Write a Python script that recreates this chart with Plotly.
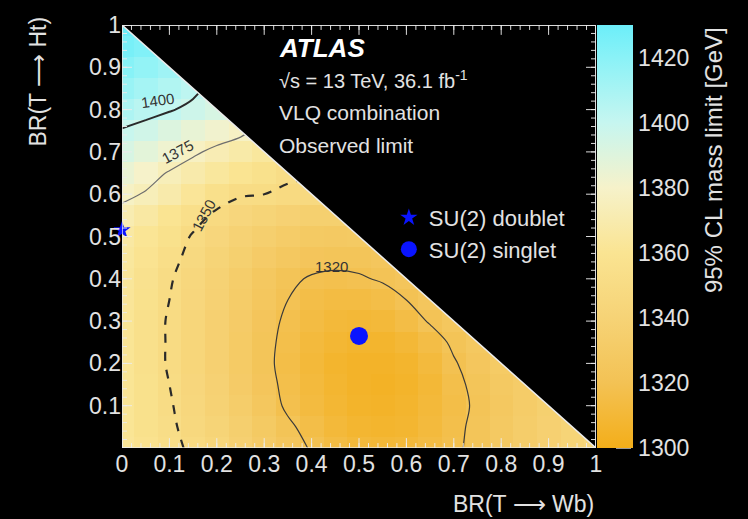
import plotly.graph_objects as go

# Branching-ratio grid (BR(T->Wb) on x, BR(T->Ht) on y), step 0.05
br_grid = [0.0, 0.05, 0.1, 0.15, 0.2, 0.25, 0.3, 0.35, 0.4, 0.45, 0.5,
           0.55, 0.6, 0.65, 0.7, 0.75, 0.8, 0.85, 0.9, 0.95, 1.0]

# Observed 95% CL lower mass limit [GeV], one list per BR(T->Ht) row,
# running over BR(T->Wb) until BR(Wb) + BR(Ht) = 1
limit_ht_000 = [1362, 1358, 1353, 1348, 1343, 1337, 1331, 1325, 1319, 1314, 1311,
                1310, 1311, 1314, 1318, 1323, 1328, 1333, 1337, 1341, 1345]
limit_ht_005 = [1361, 1356, 1352, 1346, 1341, 1335, 1329, 1322, 1316, 1311, 1308,
                1307, 1308, 1312, 1317, 1323, 1328, 1333, 1337, 1341]
limit_ht_010 = [1361, 1356, 1351, 1345, 1339, 1333, 1326, 1318, 1313, 1309, 1306,
                1305, 1307, 1311, 1316, 1322, 1327, 1332, 1336]
limit_ht_015 = [1361, 1356, 1350, 1344, 1338, 1331, 1324, 1317, 1312, 1308, 1305,
                1304, 1306, 1310, 1317, 1323, 1328, 1332]
limit_ht_020 = [1361, 1355, 1349, 1343, 1337, 1330, 1323, 1316, 1311, 1307, 1305,
                1305, 1307, 1312, 1319, 1325, 1330]
limit_ht_025 = [1361, 1355, 1349, 1343, 1337, 1330, 1323, 1317, 1312, 1309, 1307,
                1307, 1310, 1315, 1322, 1327]
limit_ht_030 = [1361, 1355, 1349, 1343, 1337, 1331, 1324, 1318, 1314, 1311, 1310,
                1311, 1315, 1321, 1326]
limit_ht_035 = [1362, 1356, 1350, 1344, 1338, 1332, 1326, 1320, 1316, 1314, 1314,
                1316, 1320, 1325]
limit_ht_040 = [1363, 1357, 1351, 1345, 1339, 1333, 1327, 1322, 1319, 1318, 1319,
                1321, 1324]
limit_ht_045 = [1364, 1359, 1353, 1347, 1341, 1336, 1331, 1327, 1324, 1323, 1323, 1325]
limit_ht_050 = [1366, 1361, 1356, 1349, 1344, 1339, 1335, 1332, 1329, 1328, 1329]
limit_ht_055 = [1371, 1366, 1360, 1354, 1348, 1344, 1341, 1338, 1336, 1336]
limit_ht_060 = [1378, 1374, 1369, 1362, 1355, 1351, 1350, 1348, 1347]
limit_ht_065 = [1385, 1380, 1374, 1369, 1364, 1360, 1356, 1352]
limit_ht_070 = [1393, 1388, 1383, 1377, 1372, 1368, 1364]
limit_ht_075 = [1399, 1396, 1391, 1386, 1382, 1378]
limit_ht_080 = [1408, 1404, 1401, 1397, 1393]
limit_ht_085 = [1415, 1411, 1407, 1403]
limit_ht_090 = [1421, 1417, 1413]
limit_ht_095 = [1426, 1423]
limit_ht_100 = [1430]

rows = [limit_ht_000, limit_ht_005, limit_ht_010, limit_ht_015, limit_ht_020,
        limit_ht_025, limit_ht_030, limit_ht_035, limit_ht_040, limit_ht_045,
        limit_ht_050, limit_ht_055, limit_ht_060, limit_ht_065, limit_ht_070,
        limit_ht_075, limit_ht_080, limit_ht_085, limit_ht_090, limit_ht_095,
        limit_ht_100]
z = [r + [None] * (len(br_grid) - len(r)) for r in rows]

# Contour levels, their line styles and where each level is labelled
contour_levels = [1320, 1350, 1375, 1400]
contour_styles = {
    1320: dict(color="#3a3a3a", width=1.2, dash="solid"),
    1350: dict(color="#2a2a2a", width=2.2, dash="dash"),
    1375: dict(color="#6e6e6e", width=1.2, dash="solid"),
    1400: dict(color="#2a2a2a", width=2.0, dash="solid"),
}
label_wb = {1320: 0.443, 1350: 0.172, 1375: 0.118, 1400: 0.074}
label_ht = {1320: 0.43, 1350: 0.55, 1375: 0.70, 1400: 0.822}
label_angle = {1320: 0, 1350: -62, 1375: -28, 1400: -8}

# Benchmark models
model_names = ["SU(2) doublet", "SU(2) singlet"]
model_wb = [0.0, 0.5]
model_ht = [0.515, 0.265]
model_symbols = ["star", "circle"]
model_sizes = [13, 18]

# Unphysical region BR(Wb) + BR(Ht) > 1
mask_x = [0.0, 1.0, 1.0, 0.0]
mask_y = [1.0, 0.0, 1.0, 1.0]

x_ticks = [0, 0.1, 0.2, 0.3, 0.4, 0.5, 0.6, 0.7, 0.8, 0.9, 1]
x_ticktext = ["0", "0.1", "0.2", "0.3", "0.4", "0.5", "0.6", "0.7", "0.8", "0.9", "1"]
y_ticks = [0.1, 0.2, 0.3, 0.4, 0.5, 0.6, 0.7, 0.8, 0.9, 1]
y_ticktext = ["0.1", "0.2", "0.3", "0.4", "0.5", "0.6", "0.7", "0.8", "0.9", "1"]
minor_ticks = [round(0.02 * i, 2) for i in range(51)]
cbar_ticks = [1300, 1320, 1340, 1360, 1380, 1400, 1420]
Z_MIN, Z_MAX = 1300, 1430

FONT = "Liberation Sans, Arial, Helvetica, sans-serif"
TXT = "#e2e2e2"
TICK = "rgba(236,236,236,0.92)"

# Figure geometry (pixels) used to size the ROOT-style inside tick marks
W, H = 748, 519
M_L, M_R, M_T, M_B = 122, 152, 20, 71
PLOT_W, PLOT_H = W - M_L - M_R, H - M_T - M_B
MAJOR_PX, MINOR_PX = 10, 5

colorscale = [
    [0.0, "rgb(243,174,26)"],
    [0.1538, "rgb(243,194,84)"],
    [0.3077, "rgb(246,211,118)"],
    [0.4615, "rgb(250,228,146)"],
    [0.6154, "rgb(246,242,202)"],
    [0.7692, "rgb(198,246,240)"],
    [0.9231, "rgb(138,242,247)"],
    [1.0, "rgb(108,238,249)"],
]

fig = go.Figure()

fig.add_trace(go.Heatmap(
    x=br_grid, y=br_grid, z=z, zmin=Z_MIN, zmax=Z_MAX,
    colorscale=colorscale, zsmooth=False,
    colorbar=dict(
        x=1.002, xanchor="left", xpad=0, y=0.5, yanchor="middle", ypad=0,
        len=1, lenmode="fraction", thickness=36, outlinewidth=0,
        tickvals=cbar_ticks, ticks="",
        tickfont=dict(family=FONT, size=23, color=TXT),
    ),
))

for lvl in contour_levels:
    st = contour_styles[lvl]
    fig.add_trace(go.Contour(
        x=br_grid, y=br_grid, z=z, connectgaps=True, showscale=False,
        contours=dict(start=lvl, end=lvl, size=1, coloring="none", showlabels=False),
        line=dict(color=st["color"], width=st["width"], dash=st["dash"]),
        showlegend=False,
    ))

fig.add_trace(go.Scatter(
    x=mask_x, y=mask_y, mode="lines", fill="toself", fillcolor="black",
    line=dict(color="#ececec", width=1.5), showlegend=False,
))

for i, name in enumerate(model_names):
    fig.add_trace(go.Scatter(
        x=[model_wb[i]], y=[model_ht[i]], mode="markers", name=name,
        cliponaxis=False,
        marker=dict(symbol=model_symbols[i], size=model_sizes[i], color="#0a14ff"),
    ))

for lvl in contour_levels:
    fig.add_annotation(text=str(lvl), x=label_wb[lvl], y=label_ht[lvl], xref="x", yref="y",
                       textangle=label_angle[lvl], showarrow=False,
                       font=dict(family=FONT, size=15, color="#333333"))

# Frame and inside tick marks on all four sides, plus colour-bar ticks
shapes = [dict(type="rect", xref="x", yref="y", x0=0, x1=1, y0=0, y1=1,
               line=dict(color=TICK, width=1.5), layer="above")]


def tick_set(vals, px):
    lx = px / PLOT_W
    ly = px / PLOT_H
    out = []
    for t in vals:
        for y0, y1 in ((0, ly), (1, 1 - ly)):
            out.append(dict(type="line", xref="x", yref="y", x0=t, x1=t, y0=y0, y1=y1,
                            line=dict(color=TICK, width=1), layer="above"))
        for x0, x1 in ((0, lx), (1, 1 - lx)):
            out.append(dict(type="line", xref="x", yref="y", x0=x0, x1=x1, y0=t, y1=t,
                            line=dict(color=TICK, width=1), layer="above"))
    return out


shapes += tick_set(minor_ticks, MINOR_PX)
shapes += tick_set(x_ticks, MAJOR_PX)

cb_x0 = (M_L + PLOT_W + 20 - M_L) / PLOT_W
cb_x1 = (M_L + PLOT_W + 35 - M_L) / PLOT_W
for v in cbar_ticks:
    yv = (v - Z_MIN) / (Z_MAX - Z_MIN)
    shapes.append(dict(type="line", xref="paper", yref="paper", x0=cb_x0, x1=cb_x1,
                       y0=yv, y1=yv, line=dict(color="rgba(255,255,255,0.8)", width=1.5),
                       layer="above"))

axis_common = dict(
    range=[0, 1], showgrid=False, zeroline=False, showline=False, ticks="",
    tickfont=dict(family=FONT, size=23, color=TXT),
)

fig.update_layout(
    width=W, height=H,
    margin=dict(l=M_L, r=M_R, t=M_T, b=M_B),
    paper_bgcolor="black", plot_bgcolor="black",
    xaxis=dict(axis_common, tickvals=x_ticks, ticktext=x_ticktext),
    yaxis=dict(axis_common, tickvals=y_ticks, ticktext=y_ticktext),
    legend=dict(x=0.563, y=0.594, xanchor="left", yanchor="top",
                bgcolor="rgba(0,0,0,0)", font=dict(family=FONT, size=22, color=TXT)),
    showlegend=True,
    shapes=shapes,
)

annotations = [
    dict(text="<b><i>ATLAS</i></b>", x=0.327, y=0.946, size=26, color="white"),
    dict(text="√s = 13 TeV, 36.1 fb<sup>-1</sup>", x=0.327, y=0.871, size=20, color=TXT),
    dict(text="VLQ combination", x=0.327, y=0.792, size=21, color=TXT),
    dict(text="Observed limit", x=0.327, y=0.715, size=21, color=TXT),
]
for a in annotations:
    fig.add_annotation(text=a["text"], x=a["x"], y=a["y"], xref="paper", yref="paper",
                       xanchor="left", yanchor="middle", showarrow=False,
                       font=dict(family=FONT, size=a["size"], color=a["color"]))

fig.add_annotation(text="BR(T ⟶ Wb)", x=1.0, y=-0.133, xref="paper", yref="paper",
                   xanchor="right", yanchor="middle", showarrow=False,
                   font=dict(family=FONT, size=23, color=TXT))
fig.add_annotation(text="BR(T ⟶ Ht)", x=-0.177, y=1.025, xref="paper", yref="paper",
                   xanchor="center", yanchor="top", textangle=-90, showarrow=False,
                   font=dict(family=FONT, size=23, color=TXT))
fig.add_annotation(text="95% CL mass limit [GeV]", x=1.247, y=1.0, xref="paper",
                   yref="paper", xanchor="center", yanchor="top", textangle=-90,
                   showarrow=False, font=dict(family=FONT, size=24, color=TXT))

fig.write_html("out.html")
